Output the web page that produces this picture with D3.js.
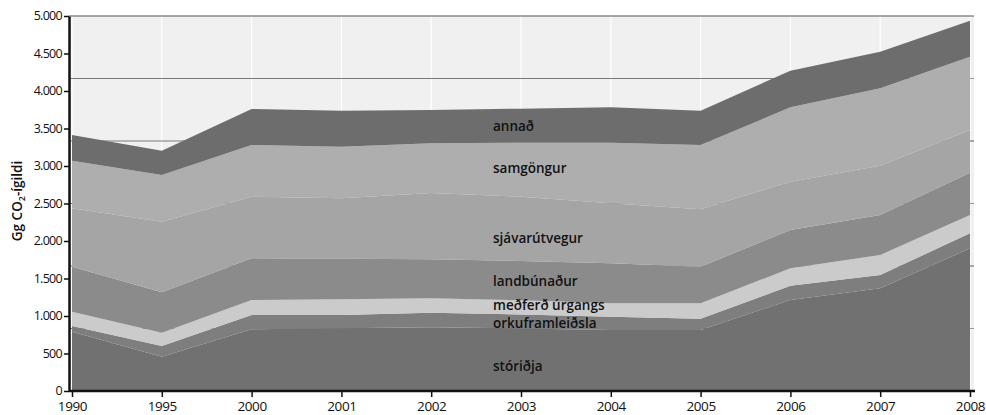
<!DOCTYPE html>
<html>
<head>
<meta charset="utf-8">
<script src="https://cdn.jsdelivr.net/npm/d3@7"></script>
<style>
  body { margin: 0; background: #fff; }
  svg { display: block; font-family: "Open Sans", sans-serif; }
</style>
</head>
<body>
<svg id="chart" width="986" height="415"></svg>
<script>
// values in Gg CO2-ígildi
const years = ["1990", "1995", "2000", "2001", "2002", "2003", "2004", "2005", "2006", "2007", "2008"];
const storidja = [790, 457, 822, 836, 849, 835, 813, 813, 1213, 1369, 1902];
const orkuframleidsla = [77, 143, 191, 177, 195, 185, 178, 149, 191, 178, 200];
const urgangur = [190, 177, 200, 209, 192, 190, 178, 207, 232, 266, 245];
const landbunadur = [600, 539, 556, 543, 520, 525, 533, 489, 511, 534, 564];
const sjavarutvegur = [779, 941, 822, 804, 884, 855, 800, 767, 644, 657, 569];
const samgongur = [635, 623, 689, 689, 662, 720, 809, 855, 991, 1032, 978];
const annad = [342, 324, 480, 480, 445, 455, 474, 458, 489, 488, 480];

const seriesNames = ["stóriðja", "orkuframleiðsla", "meðferð úrgangs", "landbúnaður", "sjávarútvegur", "samgöngur", "annað"];
const seriesValues = [storidja, orkuframleidsla, urgangur, landbunadur, sjavarutvegur, samgongur, annad];
const yTicks = [0, 500, 1000, 1500, 2000, 2500, 3000, 3500, 4000, 4500, 5000];

const colors = ["#717171", "#7e7e7e", "#cbcbcb", "#8b8b8b", "#a5a5a5", "#aeaeae", "#6d6d6d"];
const labelY = [371, 328, 310, 286, 243, 173, 131];

const svg = d3.select("#chart");
const m = { left: 69, right: 974, top: 16, bottom: 391 };

const rows = years.map((yr, i) => {
  let r = { year: yr };
  seriesNames.forEach((n, k) => r[n] = seriesValues[k][i]);
  return r;
});

const x = d3.scalePoint().domain(years).range([m.left + 3, m.right - 4]);
const y = d3.scaleLinear().domain([0, 5000]).range([m.bottom, m.top]);

const locale = d3.formatLocale({ decimal: ",", thousands: ".", grouping: [3], currency: ["", ""] });
const fmt = locale.format(",");

// plot background
svg.append("rect")
  .attr("x", m.left).attr("y", m.top)
  .attr("width", m.right - m.left).attr("height", m.bottom - m.top)
  .attr("fill", "#f0f0f0");

// vertical white grid
svg.append("g").selectAll("line")
  .data(years)
  .enter().append("line")
    .attr("x1", d => x(d)).attr("x2", d => x(d))
    .attr("y1", m.top).attr("y2", m.bottom)
    .attr("stroke", "#fff").attr("stroke-width", 1.2);

// horizontal grid (six divisions)
const hGrid = d3.range(1, 6).map(k => 5000 * k / 6);
svg.append("g").selectAll("line")
  .data(hGrid)
  .enter().append("line")
    .attr("x1", m.left).attr("x2", m.right)
    .attr("y1", d => y(d)).attr("y2", d => y(d))
    .attr("stroke", "#7a7a7a").attr("stroke-width", 1);
svg.append("line")
  .attr("x1", m.left).attr("x2", m.right)
  .attr("y1", m.top).attr("y2", m.top)
  .attr("stroke", "#8a8a8a").attr("stroke-width", 1.5);

// stacked areas
const stack = d3.stack().keys(seriesNames);
const layers = stack(rows);
const area = d3.area()
  .x(d => x(d.data.year))
  .y0(d => y(d[0]))
  .y1(d => y(d[1]));

svg.append("g").selectAll("path")
  .data(layers)
  .enter().append("path")
    .attr("d", area)
    .attr("fill", (d, i) => colors[i]);

// small ticks on the right edge
svg.append("g").selectAll("line")
  .data(hGrid)
  .enter().append("line")
    .attr("x1", x("2008")).attr("x2", x("2008") + 4)
    .attr("y1", d => y(d)).attr("y2", d => y(d))
    .attr("stroke", "#999");

// series labels
svg.append("g").selectAll("text")
  .data(seriesNames)
  .enter().append("text")
    .attr("x", 493)
    .attr("y", (d, i) => labelY[i])
    .attr("font-size", 13.5)
    .attr("font-weight", 600)
    .attr("fill", "#111")
    .text(d => d);

// axes
const yAxis = d3.axisLeft(y).tickValues(yTicks).tickFormat(fmt).tickSize(5).tickSizeOuter(0);
const gy = svg.append("g").attr("transform", `translate(${m.left},0)`).call(yAxis);
gy.select(".domain").attr("stroke", "#111").attr("stroke-width", 2.5);
gy.selectAll(".tick line").attr("stroke", "#111").attr("stroke-width", 1.5);
gy.selectAll(".tick text")
  .attr("font-size", 12.5).attr("font-family", "Open Sans, sans-serif")
  .attr("letter-spacing", -0.7).attr("fill", "#111").attr("x", -7).attr("dy", "0.28em");

const xAxis = d3.axisBottom(x).tickSize(6).tickSizeOuter(0);
const gx = svg.append("g").attr("transform", `translate(0,${m.bottom})`).call(xAxis);
gx.select(".domain").attr("stroke", "#111").attr("stroke-width", 2.5).attr("d", `M${m.left},0H${m.right + 1}`);
gx.selectAll(".tick line").attr("stroke", "#111").attr("stroke-width", 1.5);
gx.selectAll(".tick text")
  .attr("font-size", 13.5).attr("font-family", "Open Sans, sans-serif")
  .attr("letter-spacing", -0.4).attr("fill", "#111").attr("y", 10);

// y title
const title = svg.append("text")
  .attr("transform", "translate(22,201) rotate(-90)")
  .attr("text-anchor", "middle")
  .attr("font-size", 13.5)
  .attr("font-weight", 600)
  .attr("fill", "#111");
title.append("tspan").text("Gg CO");
title.append("tspan").attr("font-size", 9).attr("dy", 3).text("2");
title.append("tspan").attr("dy", -3).text("-ígildi");
</script>
</body>
</html>
